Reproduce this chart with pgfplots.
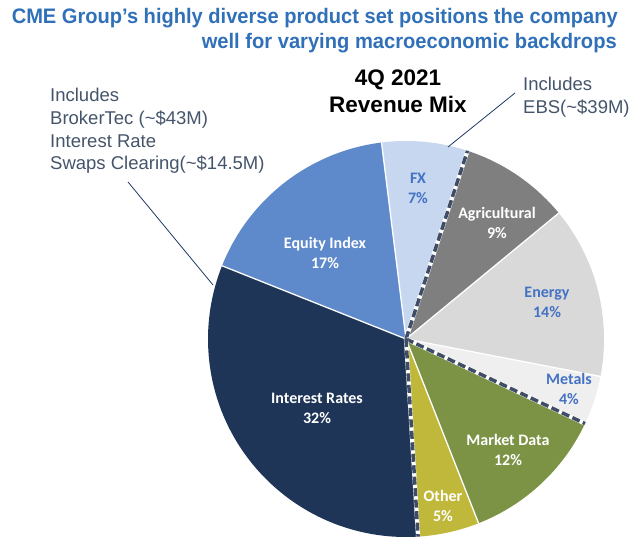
\documentclass[border=0pt]{standalone}
\usepackage{pgfplots}
\usepackage{pgfplotstable}
\pgfplotsset{compat=1.18}
\usepackage{fontspec}
\setmainfont{Liberation Sans}
\newfontfamily\carlito{Carlito}
\definecolor{cIR}{HTML}{1F3558}
\definecolor{cEQ}{HTML}{5E89CB}
\definecolor{cFX}{HTML}{C6D7EF}
\definecolor{cAG}{HTML}{7F7F7F}
\definecolor{cEN}{HTML}{D9D9D9}
\definecolor{cME}{HTML}{EFEFEF}
\definecolor{cMD}{HTML}{7C9346}
\definecolor{cOT}{HTML}{BFB83A}
\definecolor{lblblue}{HTML}{4472C4}
\definecolor{titleblue}{HTML}{2F70B8}
\definecolor{slate}{HTML}{44546A}
\definecolor{leader}{HTML}{1F3864}
\definecolor{dashc}{HTML}{3F4E66}

% slice, percent, colour (clockwise from the bottom)
\pgfplotstableread{
name pct col
IR 32 cIR
EQ 17 cEQ
FX 7 cFX
AG 9 cAG
EN 14 cEN
ME 4 cME
MD 12 cMD
OT 5 cOT
}\pietable

\def\cx{406}\def\cy{206}\def\R{198pt}
\def\startang{273.5}

\begin{document}
\begin{tikzpicture}
\begin{axis}[
  scale only axis, width=640pt, height=545pt,
  xmin=0, xmax=640, ymin=0, ymax=545,
  hide axis, clip=false,
]
\pgfplotsextra{
  \xdef\curang{\startang}
  \pgfplotstablegetrowsof{\pietable}
  \pgfmathtruncatemacro\nrows{\pgfplotsretval-1}
  \foreach \i in {0,...,\nrows}{
    \pgfplotstablegetelem{\i}{pct}\of\pietable
    \pgfmathsetmacro\sweep{3.6*\pgfplotsretval}
    \pgfplotstablegetelem{\i}{col}\of\pietable
    \edef\thecol{\pgfplotsretval}
    \pgfmathsetmacro\endang{\curang-\sweep}
    \fill[\thecol] (axis cs:\cx,\cy) -- ++(\curang:\R)
      arc[start angle=\curang, end angle=\endang, radius=\R] -- cycle;
    \xdef\curang{\endang}
  }
  % white separators
  \xdef\curang{\startang}
  \foreach \i in {0,...,\nrows}{
    \pgfplotstablegetelem{\i}{pct}\of\pietable
    \pgfmathsetmacro\sweep{3.6*\pgfplotsretval}
    \draw[white, line width=1.3pt] (axis cs:\cx,\cy) -- ++(\curang:\R);
    \pgfmathsetmacro\endang{\curang-\sweep}
    \xdef\curang{\endang}
  }
  % dashed group borders: after FX (row 2), after Metals (row 5), after Other (row 7)
  \xdef\curang{\startang}
  \foreach \i in {0,...,\nrows}{
    \pgfplotstablegetelem{\i}{pct}\of\pietable
    \pgfmathsetmacro\sweep{3.6*\pgfplotsretval}
    \pgfmathsetmacro\endang{\curang-\sweep}
    \ifnum\i=2 \draw[white, line width=4.2pt] (axis cs:\cx,\cy) -- ++(\endang:\R);
      \draw[dashc, line width=3.5pt, dash pattern=on 8pt off 3.5pt] (axis cs:\cx,\cy) -- ++(\endang:\R);\fi
    \ifnum\i=5 \draw[white, line width=4.2pt] (axis cs:\cx,\cy) -- ++(\endang:\R);
      \draw[dashc, line width=3.5pt, dash pattern=on 8pt off 3.5pt] (axis cs:\cx,\cy) -- ++(\endang:\R);\fi
    \ifnum\i=7 \draw[white, line width=4.2pt] (axis cs:\cx,\cy) -- ++(\endang:\R);
      \draw[dashc, line width=3.5pt, dash pattern=on 8pt off 3.5pt] (axis cs:\cx,\cy) -- ++(\endang:\R);\fi
    \xdef\curang{\endang}
  }
}
% slice labels
\begin{scope}[every node/.style={align=center, font=\carlito\bfseries\fontsize{16}{20}\selectfont}]
\node[white] at (axis cs:325,292) {Equity Index\\17\%};
\node[lblblue] at (axis cs:418,357) {FX\\7\%};
\node[white] at (axis cs:497,322) {Agricultural\\9\%};
\node[lblblue] at (axis cs:547,243) {Energy\\14\%};
\node[lblblue] at (axis cs:569,156) {Metals\\4\%};
\node[white] at (axis cs:508,95) {Market Data\\12\%};
\node[white] at (axis cs:443,39) {Other\\5\%};
\node[white] at (axis cs:317,137) {Interest Rates\\32\%};
\end{scope}
% titles
\node[anchor=base east, text=titleblue, font=\bfseries\fontsize{21}{25}\selectfont, inner sep=0pt]
  at (axis cs:618,521.7) {\resizebox{606pt}{\height}{CME Group’s highly diverse product set positions the company}};
\node[anchor=base east, text=titleblue, font=\bfseries\fontsize{21}{25}\selectfont, inner sep=0pt]
  at (axis cs:617,496.7) {\resizebox{415pt}{\height}{well for varying macroeconomic backdrops}};
\node[font=\bfseries\fontsize{22.5}{27}\selectfont, align=center] at (axis cs:398,454) {4Q 2021\\Revenue Mix};
% annotations
\node[anchor=north west, text=slate, font=\fontsize{18.5}{22.8}\selectfont, align=left, inner sep=0pt]
  at (axis cs:50,457) {Includes\\BrokerTec (\textasciitilde\$43M)\\Interest Rate\\Swaps Clearing(\textasciitilde\$14.5M)};
\node[anchor=north west, text=slate, font=\fontsize{18.5}{23}\selectfont, align=left, inner sep=0pt]
  at (axis cs:523,468) {Includes\\EBS(\textasciitilde\$39M)};
\draw[leader, line width=0.8pt] (axis cs:128,363) -- (axis cs:213,260);
\draw[leader, line width=0.8pt] (axis cs:515,452) -- (axis cs:448,398);
\end{axis}
\pgfresetboundingbox
\path (current axis.south west) rectangle (current axis.north east);
\end{tikzpicture}
\end{document}
